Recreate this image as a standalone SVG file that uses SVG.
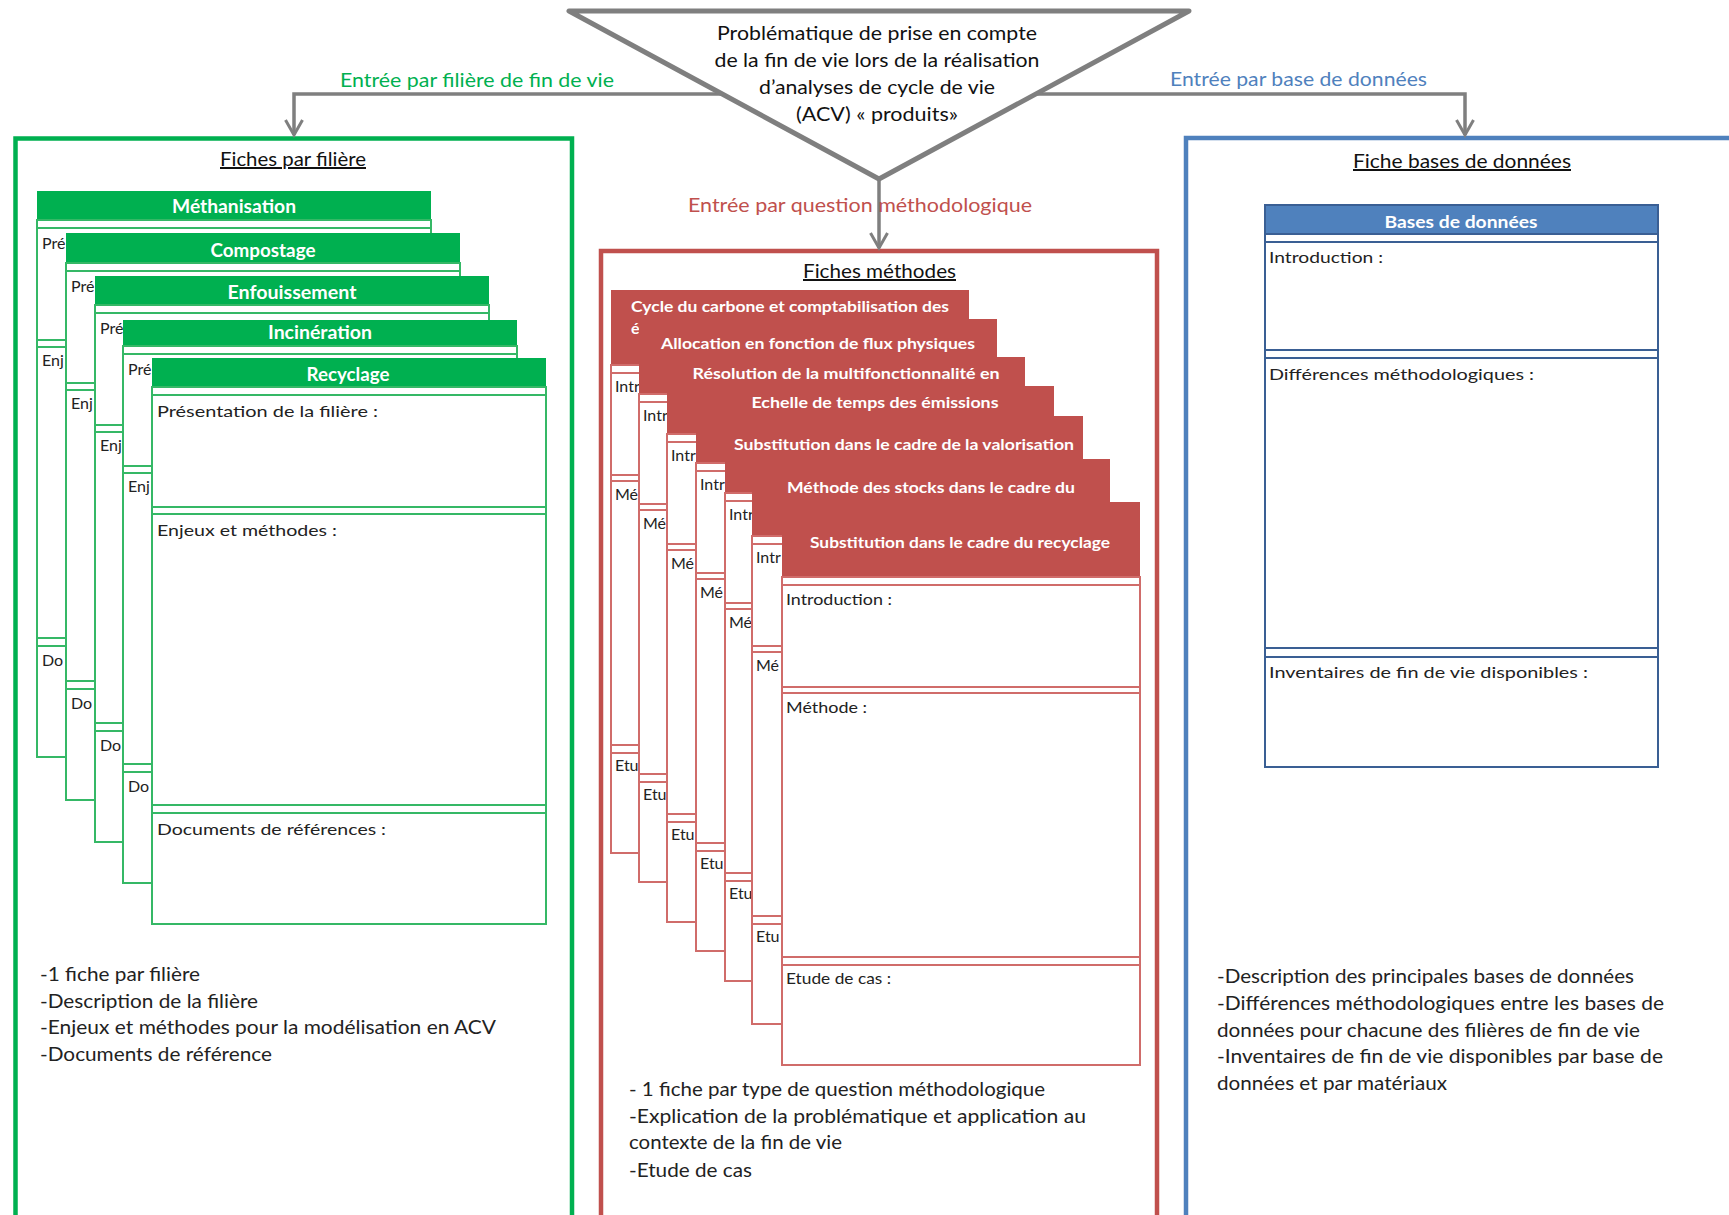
<svg xmlns="http://www.w3.org/2000/svg" xmlns:xlink="http://www.w3.org/1999/xlink" width="1729" height="1215" viewBox="0 0 1729 1215">
<style>
  text { font-family: Lato, "Liberation Sans", sans-serif; }
  .t { font-size: 16px; fill: #222; }
  .b { font-size: 19px; fill: #222; }
  .tri { font-size: 20px; fill: #111; text-anchor: middle; }
  .ttl { font-size: 20px; fill: #111; text-anchor: middle; text-decoration: underline; }
  .hw { font-weight: bold; fill: #fff; text-anchor: middle; }
  .gh { fill: #00b050; }
  .rh { fill: #c0504d; }
  .bh { fill: #4f81bd; }
  .gl { stroke: #35b866; stroke-width: 2; fill: #fff; }
  .rl { stroke: #d06c6a; stroke-width: 2; fill: #fff; }
  .bl { stroke: #3a5f94; stroke-width: 2; fill: #fff; }
  .conn { stroke: #7f7f7f; stroke-width: 3.5; fill: none; }
</style>
<defs>
  <marker id="arr" markerUnits="userSpaceOnUse" markerWidth="24" markerHeight="24" refX="16" refY="10" orient="auto" overflow="visible">
    <path d="M1,1.5 L16,10 L1,18.5" fill="none" stroke="#7f7f7f" stroke-width="3"/>
  </marker>
  <g id="gbody">
    <rect x="0" y="0" width="394" height="537" class="gl"/>
    <path d="M0,8 H394 M0,120 H394 M0,127 H394 M0,418 H394 M0,426 H394" class="gl" fill="none"/>
  </g>
  <g id="rbody">
    <rect x="0" y="0" width="358" height="488" class="rl"/>
    <path d="M0,8 H358 M0,110 H358 M0,116 H358 M0,380 H358 M0,388 H358" class="rl" fill="none"/>
  </g>
</defs>

<rect width="1729" height="1215" fill="#fff"/>

<!-- Outer panels -->
<g id="panel-filiere">
  <rect x="15.5" y="138.5" width="556.5" height="1110" fill="none" stroke="#00b050" stroke-width="4.5"/>
  <text class="ttl" x="293" y="166" textLength="146" lengthAdjust="spacingAndGlyphs">Fiches par filière</text>
</g>
<g id="panel-methodes">
  <rect x="601" y="251" width="556" height="1000" fill="none" stroke="#c0504d" stroke-width="4.5"/>
  <text class="ttl" x="879.5" y="278" textLength="153" lengthAdjust="spacingAndGlyphs">Fiches méthodes</text>
</g>
<g id="panel-bdd">
  <rect x="1186" y="138" width="600" height="1110" fill="none" stroke="#4f81bd" stroke-width="4.5"/>
  <text class="ttl" x="1462" y="168" textLength="218" lengthAdjust="spacingAndGlyphs">Fiche bases de données</text>
</g>

<!-- Connectors -->
<g id="connectors">
  <path class="conn" d="M722,94 H294 V135" marker-end="url(#arr)"/>
  <path class="conn" d="M1036,94 H1465 V135" marker-end="url(#arr)"/>
  <path class="conn" d="M879,179 V248" marker-end="url(#arr)"/>
  <text x="340" y="87" font-size="19" fill="#00b050" textLength="274" lengthAdjust="spacingAndGlyphs">Entrée par filière de fin de vie</text>
  <text x="1170" y="86" font-size="19" fill="#4f81bd" textLength="257" lengthAdjust="spacingAndGlyphs">Entrée par base de données</text>
  <text x="688" y="212" font-size="19" fill="#c0504d" textLength="344" lengthAdjust="spacingAndGlyphs">Entrée par question méthodologique</text>
</g>

<!-- Central problem triangle -->
<g id="probleme">
  <polygon points="569,11 1189,11 879,179" fill="#fff" stroke="#7f7f7f" stroke-width="5" stroke-linejoin="round"/>
  <text class="tri" x="877" y="40" textLength="320" lengthAdjust="spacingAndGlyphs">Problématique de prise en compte</text>
  <text class="tri" x="877" y="67" textLength="325" lengthAdjust="spacingAndGlyphs">de la fin de vie lors de la réalisation</text>
  <text class="tri" x="877" y="94" textLength="236" lengthAdjust="spacingAndGlyphs">d’analyses de cycle de vie</text>
  <text class="tri" x="877" y="121" textLength="162" lengthAdjust="spacingAndGlyphs">(ACV) « produits»</text>
</g>

<!-- Green cards (filières) -->
<g id="fiche-methanisation">
  <rect class="gh" x="37" y="191" width="394" height="29"/>
  <use xlink:href="#gbody" x="37" y="220"/>
  <text class="hw" font-size="18" x="234" y="213" textLength="124" lengthAdjust="spacingAndGlyphs">Méthanisation</text>
  <text class="t" x="42" y="249">Pré</text>
  <text class="t" x="42" y="366">Enj</text>
  <text class="t" x="42" y="666">Do</text>
</g>
<g id="fiche-compostage">
  <rect class="gh" x="66" y="233" width="394" height="30"/>
  <use xlink:href="#gbody" x="66" y="263"/>
  <text class="hw" font-size="18" x="263" y="257" textLength="105" lengthAdjust="spacingAndGlyphs">Compostage</text>
  <text class="t" x="71" y="292">Pré</text>
  <text class="t" x="71" y="409">Enj</text>
  <text class="t" x="71" y="709">Do</text>
</g>
<g id="fiche-enfouissement">
  <rect class="gh" x="95" y="276" width="394" height="29"/>
  <use xlink:href="#gbody" x="95" y="305"/>
  <text class="hw" font-size="18" x="292" y="299" textLength="129" lengthAdjust="spacingAndGlyphs">Enfouissement</text>
  <text class="t" x="100" y="334">Pré</text>
  <text class="t" x="100" y="451">Enj</text>
  <text class="t" x="100" y="751">Do</text>
</g>
<g id="fiche-incineration">
  <rect class="gh" x="123" y="320" width="394" height="26"/>
  <use xlink:href="#gbody" x="123" y="346"/>
  <text class="hw" font-size="18" x="320" y="339" textLength="104" lengthAdjust="spacingAndGlyphs">Incinération</text>
  <text class="t" x="128" y="375">Pré</text>
  <text class="t" x="128" y="492">Enj</text>
  <text class="t" x="128" y="792">Do</text>
</g>
<g id="fiche-recyclage">
  <rect class="gh" x="152" y="358" width="394" height="29"/>
  <use xlink:href="#gbody" x="152" y="387"/>
  <text class="hw" font-size="18" x="348" y="381" textLength="83" lengthAdjust="spacingAndGlyphs">Recyclage</text>
  <text class="t" x="157" y="417" textLength="221" lengthAdjust="spacingAndGlyphs">Présentation de la filière :</text>
  <text class="t" x="157" y="536" textLength="180" lengthAdjust="spacingAndGlyphs">Enjeux et méthodes :</text>
  <text class="t" x="157" y="835" textLength="229" lengthAdjust="spacingAndGlyphs">Documents de références :</text>
</g>

<!-- Red cards (méthodes) -->
<g id="fiche-carbone">
  <rect class="rh" x="611" y="290" width="358" height="75"/>
  <use xlink:href="#rbody" x="611" y="365"/>
  <text class="hw" font-size="16" x="631" y="312" style="text-anchor:start" textLength="318" lengthAdjust="spacingAndGlyphs">Cycle du carbone et comptabilisation des</text>
  <text class="hw" font-size="16" x="631" y="334" style="text-anchor:start">é</text>
  <text class="t" x="615" y="392">Intr</text>
  <text class="t" x="615" y="500">Mé</text>
  <text class="t" x="615" y="771">Etu</text>
</g>
<g id="fiche-allocation">
  <rect class="rh" x="639" y="319" width="358" height="75"/>
  <use xlink:href="#rbody" x="639" y="394"/>
  <text class="hw" font-size="16" x="818" y="349" textLength="314" lengthAdjust="spacingAndGlyphs">Allocation en fonction de flux physiques</text>
  <text class="t" x="643" y="421">Intr</text>
  <text class="t" x="643" y="529">Mé</text>
  <text class="t" x="643" y="800">Etu</text>
</g>
<g id="fiche-multifonctionnalite">
  <rect class="rh" x="667" y="357" width="358" height="77"/>
  <use xlink:href="#rbody" x="667" y="434"/>
  <text class="hw" font-size="16" x="846" y="379" textLength="307" lengthAdjust="spacingAndGlyphs">Résolution de la multifonctionnalité en</text>
  <text class="t" x="671" y="461">Intr</text>
  <text class="t" x="671" y="569">Mé</text>
  <text class="t" x="671" y="840">Etu</text>
</g>
<g id="fiche-temps">
  <rect class="rh" x="696" y="386" width="358" height="77"/>
  <use xlink:href="#rbody" x="696" y="463"/>
  <text class="hw" font-size="16" x="875" y="408" textLength="247" lengthAdjust="spacingAndGlyphs">Echelle de temps des émissions</text>
  <text class="t" x="700" y="490">Intr</text>
  <text class="t" x="700" y="598">Mé</text>
  <text class="t" x="700" y="869">Etu</text>
</g>
<g id="fiche-valorisation">
  <rect class="rh" x="725" y="416" width="358" height="77"/>
  <use xlink:href="#rbody" x="725" y="493"/>
  <text class="hw" font-size="16" x="904" y="450" textLength="340" lengthAdjust="spacingAndGlyphs">Substitution dans le cadre de la valorisation</text>
  <text class="t" x="729" y="520">Intr</text>
  <text class="t" x="729" y="628">Mé</text>
  <text class="t" x="729" y="899">Etu</text>
</g>
<g id="fiche-stocks">
  <rect class="rh" x="752" y="459" width="358" height="77"/>
  <use xlink:href="#rbody" x="752" y="536"/>
  <text class="hw" font-size="16" x="931" y="493" textLength="288" lengthAdjust="spacingAndGlyphs">Méthode des stocks dans le cadre du</text>
  <text class="t" x="756" y="563">Intr</text>
  <text class="t" x="756" y="671">Mé</text>
  <text class="t" x="756" y="942">Etu</text>
</g>
<g id="fiche-recyclage-substitution">
  <rect class="rh" x="782" y="502" width="358" height="75"/>
  <use xlink:href="#rbody" x="782" y="577"/>
  <text class="hw" font-size="16" x="960" y="548" textLength="300" lengthAdjust="spacingAndGlyphs">Substitution dans le cadre du recyclage</text>
  <text class="t" x="786" y="605" textLength="106" lengthAdjust="spacingAndGlyphs">Introduction :</text>
  <text class="t" x="786" y="713" textLength="81" lengthAdjust="spacingAndGlyphs">Méthode :</text>
  <text class="t" x="786" y="984" textLength="105" lengthAdjust="spacingAndGlyphs">Etude de cas :</text>
</g>

<!-- Blue card -->
<g id="fiche-bases-de-donnees">
  <rect class="bh" x="1265" y="205" width="393" height="29" stroke="#3a5f94" stroke-width="2"/>
  <rect class="bl" x="1265" y="234" width="393" height="533"/>
  <path class="bl" fill="none" d="M1265,242 H1658 M1265,350 H1658 M1265,358 H1658 M1265,648 H1658 M1265,657 H1658"/>
  <text class="hw" font-size="17" x="1461" y="228" textLength="153" lengthAdjust="spacingAndGlyphs">Bases de données</text>
  <text class="t" x="1269" y="263" textLength="114" lengthAdjust="spacingAndGlyphs">Introduction :</text>
  <text class="t" x="1269" y="380" textLength="265" lengthAdjust="spacingAndGlyphs">Différences méthodologiques :</text>
  <text class="t" x="1269" y="678" textLength="319" lengthAdjust="spacingAndGlyphs">Inventaires de fin de vie disponibles :</text>
</g>

<!-- Bottom descriptions -->
<g id="desc-filiere">
  <text class="b" x="40" y="981" textLength="160" lengthAdjust="spacingAndGlyphs">-1 fiche par filière</text>
  <text class="b" x="40" y="1008" textLength="218" lengthAdjust="spacingAndGlyphs">-Description de la filière</text>
  <text class="b" x="40" y="1034" textLength="456" lengthAdjust="spacingAndGlyphs">-Enjeux et méthodes pour la modélisation en ACV</text>
  <text class="b" x="40" y="1061" textLength="232" lengthAdjust="spacingAndGlyphs">-Documents de référence</text>
</g>
<g id="desc-methodes">
  <text class="b" x="629" y="1096" textLength="416" lengthAdjust="spacingAndGlyphs">- 1 fiche par type de question méthodologique</text>
  <text class="b" x="629" y="1123" textLength="457" lengthAdjust="spacingAndGlyphs">-Explication de la problématique et application au</text>
  <text class="b" x="629" y="1149" textLength="213" lengthAdjust="spacingAndGlyphs">contexte de la fin de vie</text>
  <text class="b" x="629" y="1177" textLength="123" lengthAdjust="spacingAndGlyphs">-Etude de cas</text>
</g>
<g id="desc-bdd">
  <text class="b" x="1217" y="983" textLength="417" lengthAdjust="spacingAndGlyphs">-Description des principales bases de données</text>
  <text class="b" x="1217" y="1010" textLength="447" lengthAdjust="spacingAndGlyphs">-Différences méthodologiques entre les bases de</text>
  <text class="b" x="1217" y="1037" textLength="423" lengthAdjust="spacingAndGlyphs">données pour chacune des filières de fin de vie</text>
  <text class="b" x="1217" y="1063" textLength="446" lengthAdjust="spacingAndGlyphs">-Inventaires de fin de vie disponibles par base de</text>
  <text class="b" x="1217" y="1090" textLength="230" lengthAdjust="spacingAndGlyphs">données et par matériaux</text>
</g>
</svg>
